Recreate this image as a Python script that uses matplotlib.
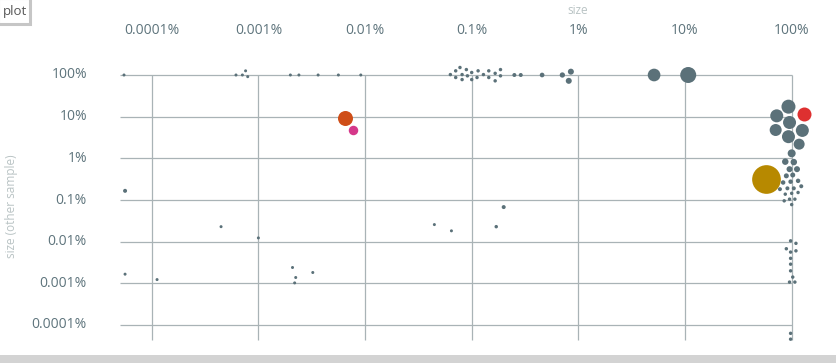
import numpy as np
import matplotlib
matplotlib.use("Agg")
import matplotlib.pyplot as plt
from matplotlib.patches import Rectangle
from matplotlib.transforms import blended_transform_factory

# ---------------- data (log10 of percent values) ----------------
gray_log_x = [
    -4.26, -3.21, -3.15, -3.12, -3.10, -2.70, -2.62, -2.44, -2.25, -2.04,
    -1.20, -1.15, -1.15, -1.11, -1.09, -1.09, -1.05, -1.04, -1.00, -1.00,
    -0.94, -0.95, -0.89, -0.84, -0.84, -0.78, -0.78, -0.73, -0.73,
    -0.60, -0.54, -0.34, -0.15, -0.07, -0.09, 0.71, 1.03,
    1.97, 1.86, 1.98, 1.85, 1.97, 2.10, 2.07, 2.00, 1.94, 2.02,
    1.98, 2.05, 1.95, 2.01, 1.92, 1.99, 2.06, 1.89, 1.96, 2.02, 2.09,
    1.94, 2.00, 2.06, 1.93, 1.98, 2.03, 2.00,
    1.99, 2.04, 1.95, 1.99, 2.04, 1.99, 1.99, 1.99, 2.01, 1.98, 2.03, 1.99, 1.99,
    -4.25, -3.35, -3.00, -4.25, -3.95, -2.68, -2.65, -2.66, -2.49, -1.35, -1.19, -0.77, -0.70,
]
gray_log_y = [
    2.00, 2.00, 2.00, 2.10, 1.96, 2.00, 2.00, 2.00, 2.00, 2.00,
    2.01, 2.10, 1.94, 2.18, 2.01, 1.89, 2.13, 1.98, 2.06, 1.89,
    2.10, 1.94, 2.01, 2.10, 1.94, 2.04, 1.86, 2.13, 1.98,
    2.00, 2.00, 2.00, 2.00, 2.08, 1.86, 2.00, 2.00,
    1.24, 1.02, 0.86, 0.68, 0.52, 0.67, 0.34, 0.12, -0.08, -0.09,
    -0.26, -0.26, -0.42, -0.40, -0.58, -0.56, -0.54, -0.74, -0.72, -0.72, -0.67,
    -0.86, -0.84, -0.82, -1.02, -0.98, -0.98, -1.11,
    -1.98, -2.04, -2.17, -2.25, -2.22, -2.40, -2.54, -2.70, -2.85, -2.97, -2.97, -4.20, -4.34,
    -0.78, -1.64, -1.91, -2.78, -2.91, -2.62, -2.86, -2.99, -2.74, -1.59, -1.74, -1.64, -1.17,
]
gray_abundance = [
    9, 9, 9, 9, 9, 9, 9, 9, 9, 9,
    12, 12, 12, 12, 12, 12, 12, 12, 12, 12,
    12, 12, 12, 12, 12, 12, 12, 12, 12,
    16, 16, 22, 28, 36, 36, 161, 256,
    196, 169, 169, 144, 169, 169, 121, 64, 42, 42,
    36, 36, 25, 25, 20, 20, 20, 16, 16, 16, 16,
    12, 12, 12, 12, 12, 12, 12,
    12, 12, 12, 12, 12, 12, 12, 12, 12, 12, 12, 12, 12,
    16, 9, 9, 9, 9, 9, 9, 9, 9, 9, 9, 12, 16,
]

hl_names = ["orange", "magenta", "red", "gold"]
hl_log_x = [-2.19, -2.11, 2.12, 1.76]
hl_log_y = [0.975, 0.69, 1.06, -0.50]
hl_abundance = [225, 90, 196, 824]

tick_exps = [-4, -3, -2, -1, 0, 1, 2]
tick_labels = ["0.0001%", "0.001%", "0.01%", "0.1%", "1%", "10%", "100%"]

# ---------------- styles ----------------
GRAY = "#5b7179"
HL_COLORS = {"orange": "#cf4e18", "magenta": "#d5388a", "red": "#de3030", "gold": "#b78900"}
GRID = "#a9b3b6"
TICK_COLOR = "#5e747c"
TITLE_COLOR = "#b9c3c4"
FONT = ["Open Sans", "DejaVu Sans"]
AREA_K = 0.5184  # abundance -> marker area (pt^2)

W, H = 837, 363
fig = plt.figure(figsize=(W / 100, H / 100), dpi=100)
# axes in pixel region x:100..837, y(top):50..350
ax = fig.add_axes([100 / W, (H - 350) / H, 737 / W, 300 / H])
ax.set_xscale("log")
ax.set_yscale("log")
ax.set_xlim(10 ** -4.485, 10 ** 2.425)
ax.set_ylim(10 ** -4.60, 10 ** 2.60)
ax.axis("off")

tick_vals = [10.0 ** e for e in tick_exps]
x_left = 10 ** -4.297
y_bottom = 10 ** -4.36
for v in tick_vals:
    ax.plot([x_left, 100], [v, v], color=GRID, lw=0.9, zorder=1, solid_capstyle="butt")
    ax.plot([v, v], [y_bottom, 100], color=GRID, lw=0.9, zorder=1, solid_capstyle="butt")

gx = 10.0 ** np.array(gray_log_x)
gy = 10.0 ** np.array(gray_log_y)
ax.scatter(gx, gy, s=np.array(gray_abundance) * AREA_K, color=GRAY, linewidths=0, zorder=3)

for name, lx, ly, a in zip(hl_names, hl_log_x, hl_log_y, hl_abundance):
    ax.scatter([10 ** lx], [10 ** ly], s=a * AREA_K, color=HL_COLORS[name], linewidths=0, zorder=4)

# tick labels
tx = blended_transform_factory(ax.transData, fig.transFigure)
ty = blended_transform_factory(fig.transFigure, ax.transData)
for v, lab in zip(tick_vals, tick_labels):
    ax.text(v, 1 - 30 / H, lab, transform=tx, ha="center", va="center",
            fontsize=10, color=TICK_COLOR, family=FONT)
    ax.text(87 / W, v, lab, transform=ty, ha="right", va="center",
            fontsize=10, color=TICK_COLOR, family=FONT)

# axis titles
fig.text(578 / W, 1 - 11 / H, "size", ha="center", va="center", fontsize=8.5,
         color=TITLE_COLOR, family=FONT)
fig.text(12 / W, 1 - 206 / H, "size (other sample)", ha="center", va="center",
         rotation=90, fontsize=8.5, color=TITLE_COLOR, family=FONT)

# "plot" box top-left
fig.patches.append(Rectangle((-2 / W, 1 - 24 / H), 32 / W, 26 / H, transform=fig.transFigure,
                             facecolor="white", edgecolor="#c6c6c6", lw=2.2, zorder=5))
fig.text(3 / W, 1 - 11 / H, "plot", ha="left", va="center", fontsize=9.5,
         color="#555555", family=FONT, zorder=6)

# bottom gray bar
fig.patches.append(Rectangle((0, 0), 1, 8 / H, transform=fig.transFigure,
                             facecolor="#d3d3d3", edgecolor="none", zorder=5))

fig.savefig("out.png", dpi=100)
